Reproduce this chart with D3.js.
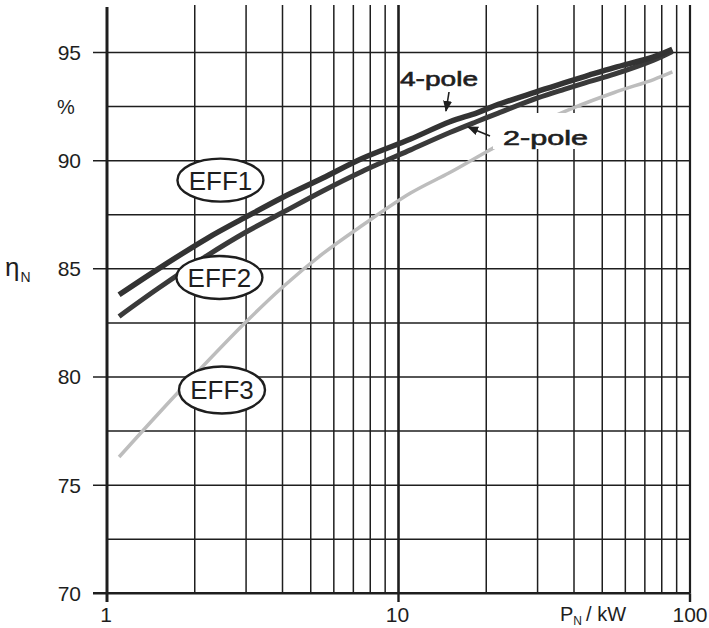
<!DOCTYPE html>
<html>
<head>
<meta charset="utf-8">
<script src="https://cdn.jsdelivr.net/npm/d3@7/dist/d3.min.js"></script>
<style>
  html, body { margin: 0; padding: 0; background: #fff; }
  svg { display: block; font-family: "Liberation Sans", Arial, Helvetica, sans-serif; }
</style>
</head>
<body>
<svg id="chart" width="709" height="628"></svg>
<script>
// ---- Data ----
const powerKW    = [1.1, 1.5, 2.2, 3, 4, 5.5, 7.5, 11, 15, 18.5, 22, 30, 37, 45, 55, 75, 87];
const eff4pole   = [83.8, 85.0, 86.4, 87.4, 88.3, 89.2, 90.1, 91.0, 91.8, 92.2, 92.6, 93.2, 93.6, 93.95, 94.3, 94.8, 95.15];
const eff2pole   = [82.8, 84.1, 85.6, 86.7, 87.6, 88.6, 89.5, 90.5, 91.3, 91.8, 92.2, 92.9, 93.3, 93.65, 94.0, 94.65, 95.05];
const limitKW    = [1.1, 1.5, 2, 3, 4, 5.5, 7.5, 11, 15, 20, 30, 40, 55, 75, 87];
const effLimit23 = [76.3, 78.3, 80.1, 82.55, 84.15, 85.7, 87.0, 88.5, 89.45, 90.4, 91.7, 92.45, 93.15, 93.75, 94.1];

const xGridValues = [1,2,3,4,5,6,7,8,9,10,20,30,40,50,60,70,80,90,100];
const xTickValues = [1, 10, 100];
const xTickLabels = ["1", "10", "100"];
const yGridValues = [70, 72.5, 75, 77.5, 80, 82.5, 85, 87.5, 90, 92.5, 95];
const yTickValues = [70, 75, 80, 85, 90, 95];
const yTickLabels = ["70", "75", "80", "85", "90", "95"];
const classLabels = ["EFF1", "EFF2", "EFF3"];
const classLabelAt = [[2.45, 89.1], [2.43, 84.6], [2.48, 79.4]];
const curveLabels = ["4-pole", "2-pole"];

// ---- Scales ----
const svg = d3.select("#chart");
const x = d3.scaleLog().domain([1, 100]).range([107, 690]);
const y = d3.scaleLinear().domain([70, 95]).range([593.3, 52.5]);
const yTop = 5;

const ink = "#1e1e1e";

// ---- Grid ----
const grid = svg.append("g");
grid.selectAll("line.v").data(xGridValues).join("line")
  .attr("x1", d => x(d)).attr("x2", d => x(d))
  .attr("y1", d => d === 1 ? 7 : yTop).attr("y2", y(70))
  .attr("stroke", ink)
  .attr("stroke-width", d => (d === 1 ? 3 : (d === 10 ? 2.6 : (d === 100 ? 2.2 : 1.5))));

grid.selectAll("line.h").data(yGridValues).join("line")
  .attr("x1", d => yTickValues.includes(d) ? 93 : x(1)).attr("x2", x(100))
  .attr("y1", d => y(d)).attr("y2", d => y(d))
  .attr("stroke", ink)
  .attr("stroke-width", d => d === 70 ? 2.4 : 1.5);

grid.selectAll("line.xt").data(xTickValues).join("line")
  .attr("x1", d => x(d)).attr("x2", d => x(d))
  .attr("y1", y(70)).attr("y2", 602)
  .attr("stroke", ink).attr("stroke-width", d => d === 1 ? 3 : 2.4);

// ---- Axis labels ----
const lab = svg.append("g").attr("fill", ink);
lab.selectAll("text.yl").data(yTickValues).join("text")
  .attr("x", 81).attr("y", d => y(d) + 7.5)
  .attr("text-anchor", "end").attr("font-size", 21)
  .text((d, i) => yTickLabels[i]);

lab.append("text").attr("x", 66).attr("y", y(92.5) + 7)
  .attr("text-anchor", "middle").attr("font-size", 20).text("%");

lab.selectAll("text.xl").data(xTickValues).join("text")
  .attr("x", (d, i) => x(d) + (i === 2 ? 0 : -1)).attr("y", 622)
  .attr("text-anchor", "middle").attr("font-size", 21)
  .text((d, i) => xTickLabels[i]);

const yLab = lab.append("text").attr("x", 5).attr("y", 276).attr("font-size", 26);
yLab.append("tspan").text("η");
yLab.append("tspan").attr("font-size", 14).attr("dy", 6).attr("dx", 1).text("N");

const xLab = lab.append("text").attr("x", 560).attr("y", 621).attr("font-size", 20);
xLab.append("tspan").text("P");
xLab.append("tspan").attr("font-size", 12).attr("dy", 4).text("N");
xLab.append("tspan").attr("dy", -4).attr("dx", 4).text("/ kW");

// ---- Curves ----
const line = d3.line().x(d => x(d[0])).y(d => y(d[1])).curve(d3.curveCatmullRom.alpha(0.5));
const curves = svg.append("g").attr("fill", "none").attr("stroke-linecap", "butt");

curves.append("path").datum(limitKW.map((p, i) => [p, effLimit23[i]]))
  .attr("d", line).attr("stroke", "#bdbdbd").attr("stroke-width", 3.5);

// white box behind "2-pole" (hides the light curve and grid, not the dark curves)
svg.append("rect").attr("x", 493).attr("y", 113).attr("width", 98).attr("height", 36).attr("fill", "#fff");

const curves2 = svg.append("g").attr("fill", "none").attr("stroke-linecap", "butt");
curves2.append("path").datum(powerKW.map((p, i) => [p, eff2pole[i]]))
  .attr("d", line).attr("stroke", "#3a3a3a").attr("stroke-width", 5);
curves2.append("path").datum(powerKW.map((p, i) => [p, eff4pole[i]]))
  .attr("d", line).attr("stroke", "#333").attr("stroke-width", 5.5);

// ---- Class labels (ellipses) ----
const cls = svg.append("g");
const clsG = cls.selectAll("g").data(classLabels).join("g")
  .attr("transform", (d, i) => `translate(${x(classLabelAt[i][0])},${y(classLabelAt[i][1])})`);
clsG.append("ellipse").attr("rx", 43).attr("ry", (d, i) => i === 2 ? 23.5 : 21.5)
  .attr("fill", "#fff").attr("stroke", ink).attr("stroke-width", 2.4);
clsG.append("text").attr("text-anchor", "middle").attr("y", 9.5)
  .attr("font-size", 26).attr("fill", ink).text(d => d);

// ---- Curve labels with arrows ----
const defs = svg.append("defs");
defs.append("marker").attr("id", "ah").attr("viewBox", "0 0 10 10")
  .attr("refX", 9).attr("refY", 5).attr("markerWidth", 7).attr("markerHeight", 7)
  .attr("orient", "auto-start-reverse")
  .append("path").attr("d", "M0,1 L10,5 L0,9 Z").attr("fill", ink);

svg.append("text").attr("x", 400).attr("y", 86).attr("font-size", 20)
  .attr("fill", ink).attr("stroke", ink).attr("stroke-width", 0.6)
  .attr("textLength", 78).attr("lengthAdjust", "spacingAndGlyphs").text(curveLabels[0]);
svg.append("text").attr("x", 503).attr("y", 145).attr("font-size", 20)
  .attr("fill", ink).attr("stroke", ink).attr("stroke-width", 0.6)
  .attr("textLength", 85).attr("lengthAdjust", "spacingAndGlyphs").text(curveLabels[1]);

svg.append("line").attr("x1", 449).attr("y1", 92).attr("x2", 446).attr("y2", 111)
  .attr("stroke", ink).attr("stroke-width", 1.6).attr("marker-end", "url(#ah)");
svg.append("line").attr("x1", 490).attr("y1", 136).attr("x2", 468).attr("y2", 127)
  .attr("stroke", ink).attr("stroke-width", 1.6).attr("marker-end", "url(#ah)");
</script>
</body>
</html>
